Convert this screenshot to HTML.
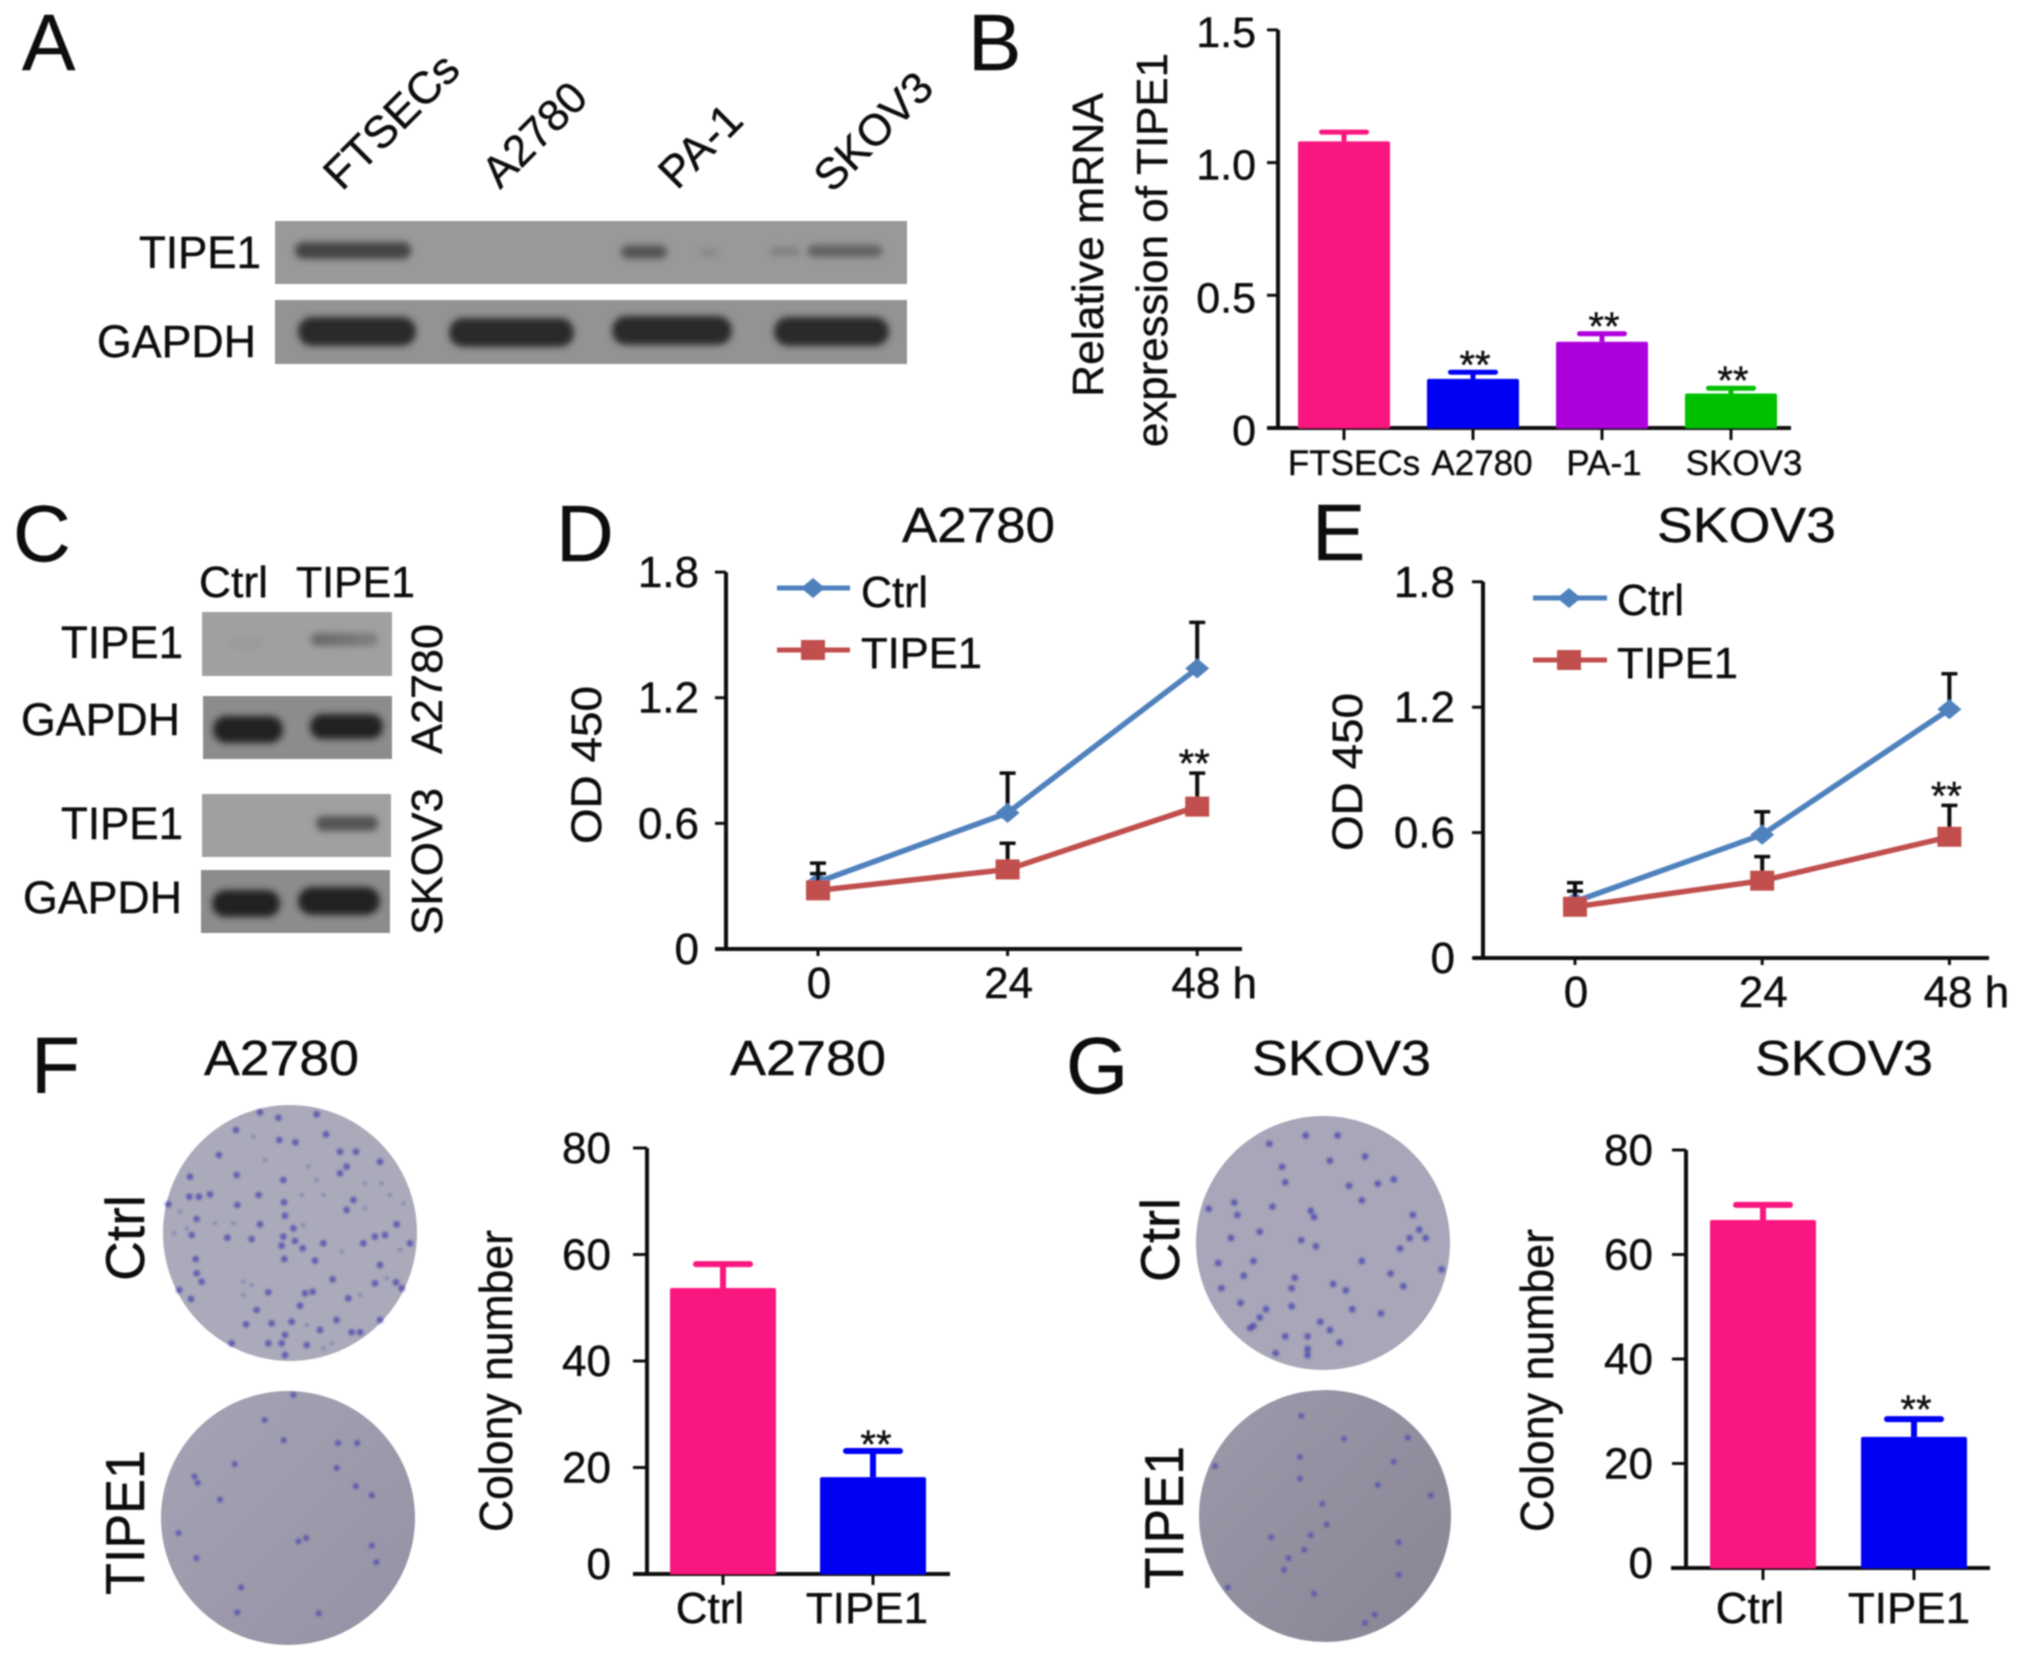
<!DOCTYPE html>
<html lang="en">
<head>
<meta charset="utf-8">
<title>TIPE1 expression figure</title>
<style>
html,body{margin:0;padding:0;background:#fff;}
svg{display:block;}
text{font-family:"Liberation Sans",sans-serif;fill:#111;stroke:#111;stroke-width:0.4px;}
</style>
</head>
<body>
<svg id="figure" width="2031" height="1664" viewBox="0 0 2031 1664" xmlns="http://www.w3.org/2000/svg">
<defs>
<filter id="soft" x="-5%" y="-5%" width="110%" height="110%"><feGaussianBlur stdDeviation="0.7"/></filter>
<filter id="b1" x="-5%" y="-5%" width="110%" height="110%"><feGaussianBlur stdDeviation="1"/></filter>
<filter id="b3" x="-30%" y="-60%" width="160%" height="220%"><feGaussianBlur stdDeviation="3.4"/></filter>
<linearGradient id="plateF" x1="0" x2="1" y1="0" y2="1"><stop offset="0" stop-color="#a5a3b4"/><stop offset="1" stop-color="#9391a3"/></linearGradient>
<linearGradient id="plateG" x1="0" x2="1" y1="0" y2="1"><stop offset="0" stop-color="#9c9aab"/><stop offset="1" stop-color="#878593"/></linearGradient>
<linearGradient id="fadeBand" x1="0" x2="1" y1="0" y2="0"><stop offset="0" stop-color="#666"/><stop offset="1" stop-color="#808080"/></linearGradient>
</defs>
<g id="root" filter="url(#soft)">
<!-- panel letters -->
<text x="22" y="70" font-size="80">A</text>
<text x="968" y="70" font-size="80">B</text>
<text x="13" y="561" font-size="80">C</text>
<text x="556" y="561" font-size="80">D</text>
<text x="1312" y="560" font-size="80">E</text>
<text x="31" y="1093" font-size="80">F</text>
<text x="1066" y="1093" font-size="80">G</text>

<!-- panel A -->
<g>
<text transform="translate(342,192) rotate(-45)" font-size="45">FTSECs</text>
<text transform="translate(500,190) rotate(-45)" font-size="44">A2780</text>
<text transform="translate(677,191) rotate(-45)" font-size="45">PA-1</text>
<text transform="translate(832,194) rotate(-45)" font-size="44">SKOV3</text>
<text x="139" y="268" font-size="45" textLength="122" lengthAdjust="spacingAndGlyphs">TIPE1</text>
<text x="97" y="357" font-size="45" textLength="159" lengthAdjust="spacingAndGlyphs">GAPDH</text>
<rect x="275" y="221" width="632" height="63" fill="#999"/>
<rect x="275" y="300" width="632" height="64" fill="#939393"/>
<g filter="url(#b3)">
<rect x="295" y="242" width="116" height="17" rx="8" fill="#444"/>
<rect x="621" y="245" width="46" height="14" rx="7" fill="#555"/>
<rect x="700" y="249" width="18" height="7" rx="3" fill="#868686"/>
<rect x="770" y="247" width="30" height="9" rx="4" fill="#828282"/>
<rect x="808" y="245" width="74" height="12" rx="5" fill="#626262"/>
<rect x="298" y="317" width="118" height="29" rx="14" fill="#2a2a2a"/>
<rect x="449" y="318" width="125" height="29" rx="14" fill="#2a2a2a"/>
<rect x="612" y="316" width="120" height="29" rx="14" fill="#2a2a2a"/>
<rect x="774" y="317" width="115" height="29" rx="14" fill="#2a2a2a"/>
</g>
</g>

<!-- panel B titles -->
<text transform="translate(1103,397) rotate(-90)" font-size="44" textLength="304" lengthAdjust="spacingAndGlyphs">Relative mRNA</text>
<text transform="translate(1167,447) rotate(-90)" font-size="44" textLength="394" lengthAdjust="spacingAndGlyphs">expression of TIPE1</text>

<!-- panel C -->
<g>
<text x="199" y="597" font-size="44" textLength="69" lengthAdjust="spacingAndGlyphs">Ctrl</text>
<text x="296" y="597" font-size="44" textLength="119" lengthAdjust="spacingAndGlyphs">TIPE1</text>
<text x="61" y="658" font-size="45" textLength="122" lengthAdjust="spacingAndGlyphs">TIPE1</text>
<text x="21" y="735" font-size="45" textLength="159" lengthAdjust="spacingAndGlyphs">GAPDH</text>
<text x="61" y="839" font-size="45" textLength="122" lengthAdjust="spacingAndGlyphs">TIPE1</text>
<text x="23" y="913" font-size="45" textLength="159" lengthAdjust="spacingAndGlyphs">GAPDH</text>
<text transform="translate(442,754) rotate(-90)" font-size="44" textLength="130" lengthAdjust="spacingAndGlyphs">A2780</text>
<text transform="translate(442,935) rotate(-90)" font-size="44" textLength="147" lengthAdjust="spacingAndGlyphs">SKOV3</text>
<rect x="202" y="612" width="190" height="64" fill="#a0a0a0"/>
<rect x="203" y="696" width="189" height="63" fill="#8c8c8c"/>
<rect x="202" y="794" width="189" height="63" fill="#a0a0a0"/>
<rect x="201" y="870" width="189" height="63" fill="#8c8c8c"/>
<g filter="url(#b3)">
<rect x="228" y="638" width="36" height="10" rx="5" fill="#9a9a9a"/>
<rect x="311" y="633" width="67" height="13" rx="6" fill="url(#fadeBand)"/>
<rect x="213" y="716" width="70" height="27" rx="13" fill="#202020"/>
<rect x="310" y="714" width="73" height="25" rx="12" fill="#202020"/>
<rect x="316" y="816" width="62" height="15" rx="7" fill="#525252"/>
<rect x="212" y="890" width="68" height="27" rx="13" fill="#202020"/>
<rect x="298" y="887" width="82" height="28" rx="14" fill="#202020"/>
</g>
</g>

<!-- line chart titles -->
<text x="902" y="542" font-size="49" textLength="153" lengthAdjust="spacingAndGlyphs">A2780</text>
<text x="1657" y="542" font-size="49" textLength="179" lengthAdjust="spacingAndGlyphs">SKOV3</text>
<text transform="translate(601,844) rotate(-90)" font-size="43" textLength="158" lengthAdjust="spacingAndGlyphs">OD  450</text>
<text transform="translate(1362,851) rotate(-90)" font-size="43" textLength="158" lengthAdjust="spacingAndGlyphs">OD  450</text>

<!-- panel F/G titles -->
<text x="204" y="1075" font-size="49" textLength="155" lengthAdjust="spacingAndGlyphs">A2780</text>
<text x="730" y="1075" font-size="49" textLength="156" lengthAdjust="spacingAndGlyphs">A2780</text>
<text x="1252" y="1075" font-size="49" textLength="179" lengthAdjust="spacingAndGlyphs">SKOV3</text>
<text x="1755" y="1075" font-size="49" textLength="178" lengthAdjust="spacingAndGlyphs">SKOV3</text>
<text transform="translate(144,1281) rotate(-90)" font-size="55" textLength="86" lengthAdjust="spacingAndGlyphs">Ctrl</text>
<text transform="translate(144,1595) rotate(-90)" font-size="55" textLength="145" lengthAdjust="spacingAndGlyphs">TIPE1</text>
<text transform="translate(1179,1282) rotate(-90)" font-size="55" textLength="84" lengthAdjust="spacingAndGlyphs">Ctrl</text>
<text transform="translate(1183,1589) rotate(-90)" font-size="55" textLength="143" lengthAdjust="spacingAndGlyphs">TIPE1</text>
<text transform="translate(512,1532) rotate(-90)" font-size="46" textLength="302" lengthAdjust="spacingAndGlyphs">Colony number</text>
<text transform="translate(1553,1532) rotate(-90)" font-size="46" textLength="303" lengthAdjust="spacingAndGlyphs">Colony number</text>

<!-- plates -->
<ellipse cx="290" cy="1233" rx="127" ry="128" fill="#abaaba"/>
<ellipse cx="288" cy="1518" rx="127" ry="127" fill="url(#plateF)"/>
<ellipse cx="1323" cy="1243" rx="127" ry="127" fill="#a8a6b8"/>
<ellipse cx="1325" cy="1516" rx="126" ry="126" fill="url(#plateG)"/>
<g id="dots" filter="url(#b1)"></g>
<g id="charts"></g>
</g>
</svg>
<script>
// Panel B data
const bCategories = ['FTSECs', 'A2780', 'PA-1', 'SKOV3'];
const bValues = [1.08, 0.185, 0.325, 0.13];
const bErrorTops = [1.115, 0.21, 0.355, 0.15];
const bTicks = ['0', '0.5', '1.0', '1.5'];
const bTickValues = [0, 0.5, 1.0, 1.5];
const bSignificant = ['', '**', '**', '**'];

// Panel D data
const timeLabels = ['0', '24', '48 h'];
const timeValues = [0, 24, 48];
const odTicks = ['0', '0.6', '1.2', '1.8'];
const odTickValues = [0, 0.6, 1.2, 1.8];
const dCtrl = [0.32, 0.65, 1.34];
const dCtrlErrTop = [0.41, 0.84, 1.56];
const dTipe = [0.28, 0.38, 0.68];
const dTipeErrTop = [0.36, 0.505, 0.84];

// Panel E data
const eCtrl = [0.27, 0.59, 1.19];
const eCtrlErrTop = [0.36, 0.70, 1.36];
const eTipe = [0.245, 0.37, 0.58];
const eTipeErrTop = [0.32, 0.485, 0.73];

// Panel F data
const colonyCategories = ['Ctrl', 'TIPE1'];
const colonyTicks = ['0', '20', '40', '60', '80'];
const colonyTickValues = [0, 20, 40, 60, 80];
const fValues = [53.7, 18.2];
const fErrorTops = [58.2, 23.1];

// Panel G data
const gValues = [66.6, 25.1];
const gErrorTops = [69.5, 28.5];

// Colony specks on the plates (in crop units)
const fCtrlDots = [[388,135],[436,142],[528,118],[570,170],[207,180],[258,105],[330,52],[590,215],[690,200],[260,240],[120,245],[400,255],[180,298],[147,305],[118,305],[326,300],[402,322],[262,330],[610,315],[590,345],[405,362],[140,372],[330,388],[740,388],[430,400],[125,420],[232,428],[305,432],[400,425],[435,438],[395,452],[458,460],[520,445],[640,445],[675,425],[705,420],[780,445],[403,492],[495,497],[690,510],[137,492],[140,535],[155,560],[548,553],[675,565],[738,562],[755,580],[355,592],[488,590],[465,595],[123,612],[450,632],[595,610],[320,645],[288,688],[365,685],[425,680],[560,675],[690,675],[510,705],[630,712],[605,712],[405,720],[395,745],[355,745],[245,745],[405,780],[470,750],[55,328],[88,585],[570,235],[618,170],[385,68],[500,58]];
const fCtrlFaint = [[310,125],[345,195],[475,215],[500,255],[520,300],[455,300],[645,265],[695,265],[720,300],[760,325],[645,340],[90,350],[195,385],[250,385],[460,390],[72,415],[110,400],[575,470],[750,465],[710,550],[280,560],[305,570],[280,600],[630,600],[470,690],[545,745],[520,760]];
const fTipeDots = [[415,980],[445,1028],[368,1085],[528,1095],[558,1138],[305,1115],[310,1130],[468,1270],[480,1262],[583,1280],[308,1310],[378,1380],[372,1440],[500,1442],[345,1170],[530,1035],[560,1035],[583,1160],[460,920],[280,1250],[590,1320]];
const gCtrlDots = [[482,300],[432,300],[375,320],[525,350],[470,360],[395,375],[400,412],[500,420],[545,415],[570,405],[280,475],[325,490],[440,480],[445,495],[520,455],[610,525],[620,545],[595,545],[580,570],[360,530],[425,550],[448,565],[315,545],[295,605],[335,635],[415,640],[410,665],[475,655],[495,670],[585,660],[565,630],[645,620],[300,665],[410,708],[370,715],[505,715],[455,745],[470,765],[435,780],[435,810],[435,825],[385,820],[350,755],[485,795],[360,735],[550,725],[320,460],[350,600],[520,600],[600,490],[400,780],[330,700],[345,760],[380,470]];
const gTipeDots = [[425,970],[423,1068],[423,1120],[492,1025],[592,1022],[628,1160],[458,1180],[570,1080],[545,1135],[440,1255],[378,1260],[430,1290],[405,1310],[398,1338],[578,1272],[578,1350],[310,1380],[445,1395],[540,1445],[525,1465],[465,1230],[290,1090]];

const NS = 'http://www.w3.org/2000/svg';
const charts = document.getElementById('charts');
const dotsLayer = document.getElementById('dots');

function mk(tag, attrs, parent) {
  const el = document.createElementNS(NS, tag);
  for (const k in attrs) el.setAttribute(k, attrs[k]);
  (parent || charts).appendChild(el);
  return el;
}

function linearY(base, perUnit) {
  return function (v) { return base - v * perUnit; };
}
function linearX(left, perUnit) {
  return function (v) { return left + v * perUnit; };
}

function drawDots(list, ox, sx, oy, sy, r, fillColor, alpha, prefix) {
  list.forEach(function (d) {
    const dot = mk('circle', {cx: ox + d[0] / sx, cy: oy + d[1] / sy, r: r, fill: fillColor, opacity: alpha}, dotsLayer);
    
    
  });
}
drawDots(fCtrlDots, 150, 3, 1095, 3, 3.4, '#4f4cae', 0.8, 'plate-f-ctrl');
drawDots(fCtrlFaint, 150, 3, 1095, 3, 2.2, '#6e6cae', 0.55, 'plate-f-ctrl-faint');
drawDots(fTipeDots, 0, 1.568, 1010, 2.39, 3, '#5350ae', 0.85, 'plate-f-tipe1');
drawDots(gCtrlDots, 1030, 1.567, 1010, 2.39, 3.4, '#4f4cae', 0.82, 'plate-g-ctrl');
drawDots(gTipeDots, 1030, 1.567, 1010, 2.39, 3, '#5350ae', 0.8, 'plate-g-tipe1');

function drawYAxis(id, cfg, yFn, tickValues, tickLabels) {
  const axis = mk('line', {x1: cfg.x, x2: cfg.x, y1: yFn(tickValues[tickValues.length - 1]), y2: yFn(0), stroke: '#111', 'stroke-width': 4});
  
  
  tickValues.forEach(function (v, i) {
    const tick = mk('line', {x1: cfg.x - cfg.tick, x2: cfg.x, y1: yFn(v), y2: yFn(v), stroke: '#111', 'stroke-width': 3});
    
    
    const dy = (v === 0 && cfg.zeroDy !== undefined) ? cfg.zeroDy : cfg.labelDy;
    const label = mk('text', {x: cfg.labelRight, y: yFn(v) + dy, 'font-size': cfg.fontSize, 'text-anchor': 'end'});
    
    
    label.textContent = tickLabels[i];
  });
}

function drawXAxisLine(id, cfg, base) {
  const axis = mk('line', {x1: cfg.x0, x2: cfg.x1, y1: base, y2: base, stroke: '#111', 'stroke-width': 4});
  
  
}

function drawBars(id, cfg, yFn, categories, values, errTops, colors, stars) {
  drawXAxisLine(id, cfg, yFn(0));
  categories.forEach(function (c, i) {
    const cx = cfg.left + i * cfg.step;
    const stem = mk('line', {x1: cx, x2: cx, y1: yFn(values[i]), y2: yFn(errTops[i]), stroke: colors[i], 'stroke-width': cfg.stem});
    
    
    const cap = mk('line', {x1: cx - cfg.cap / 2, x2: cx + cfg.cap / 2, y1: yFn(errTops[i]), y2: yFn(errTops[i]), stroke: colors[i], 'stroke-width': cfg.stem, 'stroke-linecap': 'round'});
    
    
    const bar = mk('rect', {x: cx - cfg.width / 2, y: yFn(values[i]), width: cfg.width, height: yFn(0) - yFn(values[i]), fill: colors[i], rx: 2});
    
    
    const tick = mk('line', {x1: cx, x2: cx, y1: yFn(0), y2: yFn(0) + cfg.tick, stroke: '#111', 'stroke-width': 3});
    
    
    const label = mk('text', {x: cx + cfg.labelDx[i], y: cfg.labelY, 'font-size': cfg.fontSize, 'text-anchor': 'middle'});
    
    
    label.textContent = c;
    if (stars[i]) {
      const star = mk('text', {x: cx + cfg.starDx, y: yFn(errTops[i]) - cfg.starGap, 'font-size': 40, 'text-anchor': 'middle'});
      
      
      star.textContent = stars[i];
    }
  });
}

function drawMarker(x, y, color, shape) {
  if (shape === 'diamond') {
    return mk('polygon', {points: (x - 12) + ',' + y + ' ' + x + ',' + (y - 10) + ' ' + (x + 12) + ',' + y + ' ' + x + ',' + (y + 10), fill: color});
  }
  return mk('rect', {x: x - 12, y: y - 10, width: 24, height: 20, fill: color});
}

function drawSeries(id, name, xFn, yFn, values, errTops, color, shape) {
  values.forEach(function (v, i) {
    const x = xFn(timeValues[i]);
    const stem = mk('line', {x1: x, x2: x, y1: yFn(v), y2: yFn(errTops[i]), stroke: '#111', 'stroke-width': 4});
    
    
    const cap = mk('line', {x1: x - 8, x2: x + 8, y1: yFn(errTops[i]), y2: yFn(errTops[i]), stroke: '#111', 'stroke-width': 3.5});
    
    
  });
  const pts = values.map(function (v, i) { return xFn(timeValues[i]) + ',' + yFn(v); }).join(' ');
  const line = mk('polyline', {points: pts, fill: 'none', stroke: color, 'stroke-width': 5.5});
  
  
  values.forEach(function (v, i) {
    const m = drawMarker(xFn(timeValues[i]), yFn(v), color, shape);
    
    
  });
}

function drawLegendEntry(id, name, cfg, y, color, shape, textY, textWidth) {
  const line = mk('line', {x1: cfg.x0, x2: cfg.x1, y1: y, y2: y, stroke: color, 'stroke-width': 5});
  
  
  const m = drawMarker(cfg.mid, y, color, shape);
  
  
  const t = mk('text', {x: cfg.textX, y: textY, 'font-size': 44, textLength: textWidth, lengthAdjust: 'spacingAndGlyphs'});
  
  
  t.textContent = name === 'ctrl' ? 'Ctrl' : 'TIPE1';
}

function drawLinePanel(id, cfg, ctrl, ctrlErr, tipe, tipeErr) {
  const yFn = linearY(cfg.base, cfg.perUnit);
  const xFn = linearX(cfg.xLeft, cfg.perHour);
  drawYAxis(id, cfg.yAxis, yFn, odTickValues, odTicks);
  drawXAxisLine(id, cfg.xAxis, cfg.base);
  timeValues.forEach(function (t, i) {
    const tick = mk('line', {x1: xFn(t), x2: xFn(t), y1: cfg.base, y2: cfg.base + 7, stroke: '#111', 'stroke-width': 3});
    
    
    const label = mk('text', {x: xFn(t) + (i === 2 ? 17 : 1), y: cfg.base + 49, 'font-size': 44, 'text-anchor': 'middle'});
    
    
    label.textContent = timeLabels[i];
  });
  drawSeries(id, 'ctrl', xFn, yFn, ctrl, ctrlErr, '#4f81bd', 'diamond');
  drawSeries(id, 'tipe1', xFn, yFn, tipe, tipeErr, '#c0504d', 'square');
  drawLegendEntry(id, 'ctrl', cfg.legend, cfg.legend.y1, '#4f81bd', 'diamond', cfg.legend.t1, 67);
  drawLegendEntry(id, 'tipe1', cfg.legend, cfg.legend.y2, '#c0504d', 'square', cfg.legend.t2, 121);
  const star = mk('text', {x: xFn(48) - 3, y: yFn(tipeErr[2]) + 4, 'font-size': 40, 'text-anchor': 'middle'});
  
  
  star.textContent = '**';
}

// Panel B
const yB = linearY(428, 265.4);
drawYAxis('panel-b', {x: 1278, tick: 11, labelRight: 1256, labelDy: 17, fontSize: 43}, yB, bTickValues, bTicks);
drawBars('panel-b', {x0: 1267, x1: 1791, left: 1344, step: 129, width: 92, cap: 45, stem: 5, tick: 12, labelY: 475, fontSize: 35, labelDx: [10, 9, 2, 13], starDx: 2, starGap: -6}, yB, bCategories, bValues, bErrorTops, ['#f9157f', '#0000f5', '#ae00dc', '#00c000'], bSignificant);

// Panels D, E
drawLinePanel('panel-d', {base: 949, perUnit: 209.4, xLeft: 818, perHour: 7.9, yAxis: {x: 726, tick: 11, labelRight: 699, labelDy: 15, fontSize: 44}, xAxis: {x0: 715, x1: 1242}, legend: {x0: 777, x1: 850, mid: 813, y1: 588, y2: 650, t1: 607, t2: 668, textX: 861}}, dCtrl, dCtrlErrTop, dTipe, dTipeErrTop);
drawLinePanel('panel-e', {base: 958, perUnit: 209, xLeft: 1575, perHour: 7.8, yAxis: {x: 1483, tick: 11, labelRight: 1455, labelDy: 15, fontSize: 44}, xAxis: {x0: 1473, x1: 1989}, legend: {x0: 1533, x1: 1607, mid: 1569, y1: 598, y2: 660, t1: 615, t2: 678, textX: 1617}}, eCtrl, eCtrlErrTop, eTipe, eTipeErrTop);

// Panels F, G
const yF = linearY(1574, 5.325);
drawYAxis('panel-f', {x: 647, tick: 14, labelRight: 611, labelDy: 15, zeroDy: 5, fontSize: 44}, yF, colonyTickValues, colonyTicks);
drawBars('panel-f', {x0: 633, x1: 950, left: 723, step: 150, width: 106, cap: 54, stem: 6, tick: 11, labelY: 1623, fontSize: 44, labelDx: [-13, -6], starDx: 3, starGap: -7}, yF, colonyCategories, fValues, fErrorTops, ['#f9157f', '#0000f5'], ['', '**']);
const yG = linearY(1568, 5.225);
drawYAxis('panel-g', {x: 1686, tick: 14, labelRight: 1653, labelDy: 15, zeroDy: 10, fontSize: 44}, yG, colonyTickValues, colonyTicks);
drawBars('panel-g', {x0: 1671, x1: 1990, left: 1763, step: 151, width: 106, cap: 54, stem: 6, tick: 12, labelY: 1623, fontSize: 44, labelDx: [-13, -5], starDx: 2, starGap: -4}, yG, colonyCategories, gValues, gErrorTops, ['#f9157f', '#0000f5'], ['', '**']);
</script>
</body>
</html>
